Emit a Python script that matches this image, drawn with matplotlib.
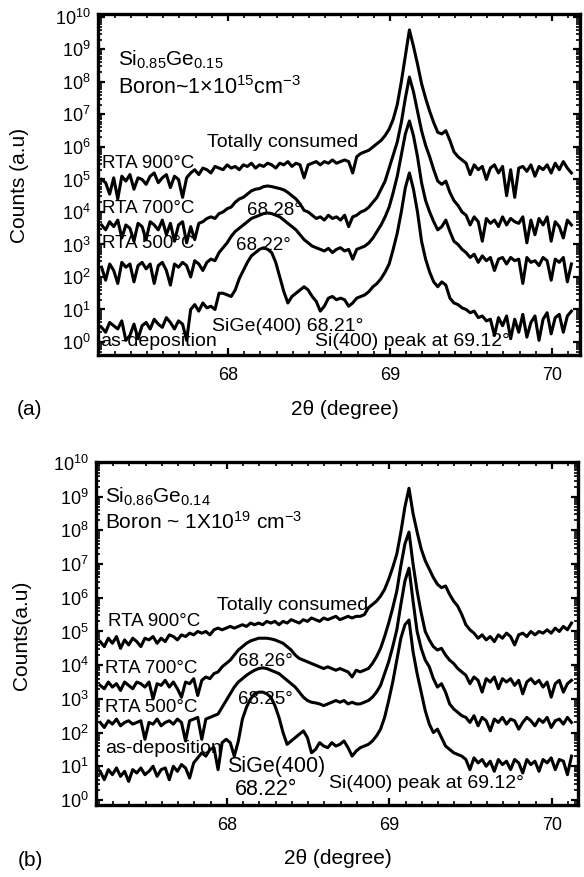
import matplotlib
matplotlib.use('Agg')
import matplotlib.pyplot as plt
import numpy as np
from matplotlib.ticker import LogLocator, NullFormatter, MultipleLocator

plt.rcParams['font.family'] = ['Liberation Sans', 'DejaVu Sans']
plt.rcParams['mathtext.fontset'] = 'custom'
plt.rcParams['mathtext.rm'] = 'Liberation Sans'
plt.rcParams['mathtext.it'] = 'Liberation Sans:italic'
plt.rcParams['mathtext.default'] = 'regular'

# scan: 2theta from 67.22, step 0.025 deg, 117 points
scan_start = 67.22
scan_step = 0.025
two_theta = scan_start + scan_step * np.arange(117)

# (a) Si0.85Ge0.15, log10(counts)
a_900 = [5.0, 4.9, 4.55, 5.05, 4.4, 5.1, 4.95, 5.15, 4.7, 5.05,
         5.0, 4.85, 5.1, 5.2, 4.9, 5.05, 5.15, 4.75, 5.1, 5.0,
         4.45, 5.05, 5.2, 5.3, 5.15, 5.35, 5.3, 5.2, 5.4, 5.35,
         5.3, 5.45, 5.35, 5.4, 5.3, 5.45, 5.4, 5.5, 5.35, 5.45,
         5.4, 5.5, 5.45, 5.35, 5.5, 5.45, 5.55, 5.4, 5.5, 5.45,
         5.05, 5.45, 5.5, 5.55, 5.45, 5.55, 5.5, 5.6, 5.5, 5.55,
         5.6, 5.55, 5.2, 5.7, 5.8, 5.85, 5.9, 6.0, 6.1, 6.2,
         6.35, 6.55, 6.85, 7.3, 8.0, 8.8, 9.6, 9.1, 8.55, 7.95,
         7.5, 7.1, 6.75, 6.45, 6.4, 6.5, 6.2, 5.85, 5.7, 5.6,
         5.5, 5.15, 5.45, 5.3, 5.4, 5.0, 5.35, 5.45, 5.2, 5.4,
         4.5, 5.3, 4.45, 5.35, 5.4, 5.25, 5.45, 5.1, 5.4, 5.3,
         5.45, 5.2, 5.5, 5.3, 5.55, 5.35, 5.2]
a_700 = [3.6, 3.45, 3.7, 3.55, 3.75, 3.2, 3.6, 3.5, 3.1, 3.65,
         3.55, 3.15, 3.7, 3.6, 3.45, 3.75, 3.3, 3.65, 3.1, 3.6,
         3.7, 3.05, 3.55, 3.15, 3.65, 3.7, 3.8, 3.85, 3.8, 3.95,
         4.0, 4.1, 4.15, 4.3, 4.4, 4.45, 4.55, 4.65, 4.7, 4.72,
         4.78, 4.8, 4.78, 4.75, 4.72, 4.68, 4.6, 4.5, 4.4, 4.25,
         4.05, 4.0, 3.9, 3.8, 3.85, 3.75, 3.9, 3.8, 3.85, 3.75,
         3.9, 3.55, 3.85, 3.9, 4.0, 4.05, 4.15, 4.3, 4.45, 4.7,
         4.95, 5.35, 5.75, 6.15, 6.75, 7.5, 8.15, 7.7, 7.1, 6.5,
         6.05, 5.7, 5.3, 4.95, 4.85, 4.95, 4.6, 4.35, 4.2, 4.0,
         3.9, 3.6, 3.85, 3.7, 3.1, 3.8, 3.65, 3.75, 3.55, 3.85,
         3.6, 3.8, 3.7, 3.65, 3.85, 3.05, 3.75, 3.3, 3.8, 3.6,
         3.85, 3.1, 3.7, 3.55, 3.2, 3.75, 3.6]
a_500 = [2.3, 1.9, 2.4, 2.2, 1.8, 2.45, 2.3, 2.4, 1.85, 2.35,
         2.45, 2.25, 2.4, 1.8, 2.35, 2.45, 2.2, 1.75, 2.4, 2.3,
         2.45, 2.35, 2.0, 2.5, 2.4, 2.2, 2.45, 2.55, 2.5, 2.75,
         2.9, 3.05, 3.25, 3.4, 3.5, 3.6, 3.7, 3.8, 3.85, 3.9,
         3.95, 3.97, 3.95, 3.9, 3.85, 3.75, 3.65, 3.55, 3.45, 3.3,
         3.15, 3.05, 2.95, 2.9, 2.85, 2.8, 2.88, 2.75, 2.85, 2.9,
         2.8, 2.85, 2.55, 2.85, 2.9, 2.95, 3.05, 3.2, 3.4, 3.6,
         3.85, 4.15, 4.6, 5.1, 5.75, 6.4, 6.8, 6.35, 5.7, 4.9,
         4.35, 4.0, 3.7, 3.45, 3.55, 3.75, 3.4, 3.1, 3.0, 2.85,
         2.75, 2.6, 2.7, 2.45, 2.65, 2.5, 2.6, 2.2, 2.55, 2.6,
         2.4, 2.6, 2.5, 2.55, 1.8, 2.6, 2.45, 2.5, 2.35, 2.6,
         2.5, 1.9, 2.55, 2.45, 2.6, 1.85, 2.4]
a_dep = [0.45, 0.3, 0.6, 0.5, 0.4, 0.65, 0.05, 0.2, 0.55, 0.1,
         0.5, 0.6, 0.4, 0.7, 0.55, 0.45, 0.75, 0.6, 0.4, 0.65,
         0.55, 0.05, 1.0, 1.15, 0.95, 1.2, 1.05, 1.1, 1.0, 1.5,
         1.5, 1.45, 1.4, 1.6, 1.95, 2.2, 2.45, 2.65, 2.75, 2.85,
         2.9, 2.85, 2.75, 2.45, 2.0, 1.55, 1.2, 1.4, 1.5, 1.6,
         1.7, 1.6, 1.4, 1.25, 0.95, 1.1, 1.35, 1.4, 1.3, 1.35,
         1.3, 1.1, 1.2, 1.35, 1.4, 1.45, 1.55, 1.7, 1.8, 1.95,
         2.15, 2.4, 2.85, 3.35, 4.0, 4.75, 5.2, 4.7, 4.0, 3.1,
         2.55, 2.15, 1.85, 1.7, 1.85, 1.75, 1.35, 1.2, 1.15, 1.05,
         1.0, 0.9, 0.95, 0.75, 0.8, 0.65, 0.7, 0.2, 0.75, 0.5,
         0.8, 0.1, 0.7, 0.3, 0.85, 0.15, 0.6, 0.8, 0.05, 0.7,
         0.9, 0.25, 0.75, 0.85, 0.3, 0.8, 0.95]

# (b) Si0.86Ge0.14
b_900 = [4.7, 4.55, 4.8, 4.65, 4.85, 4.5, 4.75, 4.6, 4.8, 4.7,
         4.55, 4.8, 4.75, 4.85, 4.65, 4.8, 4.7, 4.9, 4.85, 4.75,
         4.9, 4.85, 4.95, 4.9, 5.0, 4.95, 5.0, 4.9, 5.05, 5.1,
         5.05, 5.1, 5.15, 5.1, 5.15, 5.2, 5.15, 5.25, 5.2, 5.25,
         5.2, 5.3, 5.25, 5.3, 5.2, 5.3, 5.25, 5.35, 5.3, 5.25,
         5.35, 5.3, 5.4, 5.35, 5.3, 5.4, 5.35, 5.4, 5.45, 5.35,
         5.4, 5.45, 5.4, 5.45, 5.45, 5.5, 5.7, 5.8, 5.9, 6.05,
         6.25, 6.55, 6.9, 7.3, 7.95, 8.7, 9.25, 8.5, 7.95, 7.45,
         7.1, 6.85, 6.6, 6.4, 6.3, 6.35, 6.1, 5.9, 5.75, 5.5,
         5.2, 5.05, 4.95, 4.8, 4.9, 4.75, 4.85, 4.7, 4.9, 4.8,
         4.95, 4.85, 4.6, 4.9, 4.95, 4.85, 5.0, 4.9, 5.0, 4.95,
         5.05, 4.95, 5.1, 5.0, 5.15, 5.05, 5.25]
b_700 = [3.4, 3.3, 3.5, 3.35, 3.45, 3.25, 3.5, 3.4, 3.3, 3.5,
         3.45, 3.35, 3.5, 3.0, 3.45, 3.4, 3.55, 3.35, 3.5, 3.3,
         3.05, 3.5, 3.45, 3.6, 3.1, 3.55, 3.65, 3.6, 3.75, 3.8,
         3.95, 4.05, 4.15, 4.3, 4.45, 4.55, 4.65, 4.72, 4.76, 4.8,
         4.8, 4.8, 4.78, 4.75, 4.7, 4.65, 4.55, 4.45, 4.3, 4.2,
         4.15, 4.1, 4.05, 4.0, 3.95, 3.9, 3.95, 3.9, 3.85, 3.9,
         3.85, 3.8, 3.65, 3.85, 3.8, 3.85, 3.9, 4.05, 4.25, 4.5,
         4.85, 5.25, 5.7, 6.2, 6.95, 7.6, 7.95, 7.0, 6.2, 5.55,
         5.0, 4.75, 4.55, 4.45, 4.5, 4.3, 4.15, 4.05, 3.9, 3.8,
         3.7, 3.45, 3.65, 3.55, 3.2, 3.6, 3.5, 3.65, 3.3, 3.6,
         3.5, 3.6, 3.4, 3.55, 3.15, 3.5, 3.6, 3.45, 3.55, 3.35,
         3.5, 3.05, 3.45, 3.55, 3.2, 3.45, 3.55]
b_500 = [2.3, 2.15, 2.35, 2.25, 2.4, 2.2, 2.3, 2.35, 2.25, 2.3,
         2.35, 1.8, 2.3, 2.25, 2.4, 2.2, 2.3, 2.35, 2.25, 2.4,
         2.3, 1.75, 2.35, 2.4, 2.45, 1.8, 2.4, 2.45, 2.5, 2.55,
         2.75, 2.95, 3.15, 3.35, 3.5, 3.6, 3.7, 3.78, 3.85, 3.9,
         3.92, 3.9, 3.85, 3.8, 3.75, 3.65, 3.55, 3.45, 3.35, 3.2,
         3.05, 2.95, 2.9, 2.88, 2.85, 2.8, 2.85, 2.9, 2.95, 2.9,
         2.95, 2.85, 2.9, 2.85, 2.85, 2.9, 2.95, 3.05, 3.2, 3.4,
         3.75, 4.1, 4.55, 5.05, 5.8, 6.5, 6.88, 5.9, 5.0, 4.5,
         4.15, 3.95, 3.6, 3.35, 3.45, 3.2, 2.85, 2.7, 2.6, 2.5,
         2.45, 2.3, 2.5, 2.2, 2.45, 2.35, 2.05, 2.4, 2.3, 2.45,
         2.25, 2.4, 2.35, 2.1, 2.3, 2.45, 2.35, 2.2, 2.4, 2.3,
         2.45, 2.15, 2.35, 2.4, 2.25, 2.45, 2.3]
b_dep = [0.85, 0.6, 0.9, 0.75, 0.95, 0.7, 0.85, 0.55, 0.9, 0.8,
         0.95, 0.75, 0.85, 1.0, 0.7, 0.9, 0.95, 0.6, 1.0, 0.85,
         1.05, 0.95, 0.65, 1.1, 1.25, 1.4, 1.3, 1.5, 1.55, 0.9,
         1.7, 1.8, 1.7, 1.3, 1.75, 2.4, 2.75, 3.0, 3.15, 3.2,
         3.2, 3.15, 3.05, 2.8, 2.45, 2.0, 1.65, 1.75, 1.85, 1.95,
         2.05, 1.85, 1.4, 1.5, 1.7, 1.6, 1.55, 1.7, 1.6, 1.65,
         1.75, 1.55, 1.3, 1.45, 1.55, 1.6, 1.65, 1.75, 1.9, 2.1,
         2.45, 2.95, 3.5, 4.15, 4.8, 5.2, 5.34, 4.4, 3.75, 3.2,
         2.65, 2.25, 2.0, 2.1, 1.85, 1.6, 1.5, 1.4, 1.35, 1.3,
         1.2, 0.9, 1.25, 1.1, 1.2, 1.0, 1.15, 0.85, 1.2, 1.05,
         1.15, 0.9, 1.2, 1.1, 0.8, 1.2, 1.05, 1.15, 0.85, 1.2,
         1.1, 1.25, 0.9, 1.2, 1.15, 0.75, 1.3]

fig = plt.figure(figsize=(5.84, 8.77), dpi=100)
axA = fig.add_axes([98/584, 1-355/877, 482/584, 341/877])
axB = fig.add_axes([96/584, 1-805/877, 482/584, 343/877])


def style(ax, ylo, yhi, xlo, xhi):
    ax.set_yscale('log')
    ax.set_xlim(xlo, xhi)
    ax.set_ylim(ylo, yhi)
    ax.set_yticks([10.0**k for k in range(11)])
    ax.yaxis.set_minor_locator(LogLocator(base=10, subs=np.arange(2, 10), numticks=30))
    ax.yaxis.set_minor_formatter(NullFormatter())
    ax.set_xticks([68, 69, 70])
    ax.set_xticklabels(['68', '69', '70'])
    ax.xaxis.set_minor_locator(MultipleLocator(0.1))
    ax.tick_params(which='both', direction='in', top=True, right=True, labelsize=13)
    ax.tick_params(which='major', length=5, width=1.6)
    ax.tick_params(which='minor', length=3, width=1.2)
    ax.tick_params(axis='x', pad=9)
    ax.tick_params(axis='y', pad=5)
    for s in ax.spines.values():
        s.set_linewidth(2.4)


for ys in [a_900, a_700, a_500, a_dep]:
    axA.plot(two_theta, 10**np.array(ys), color='black', lw=2.2)
style(axA, 10**-0.4, 10**10.09, 67.198, 70.173)

for ys in [b_900, b_700, b_500, b_dep]:
    axB.plot(two_theta, 10**np.array(ys), color='black', lw=2.2)
style(axB, 10**-0.15, 10**10.03, 67.194, 70.16)

fs = 13.5
axA.text(67.32, 10**8.68, 'Si$_{0.85}$Ge$_{0.15}$', fontsize=15, va='center')
axA.text(67.32, 10**7.82, 'Boron~1×10$^{15}$cm$^{-3}$', fontsize=15.5, va='center')
axA.text(67.87, 10**6.15, 'Totally consumed', fontsize=14, va='center')
axA.text(67.22, 10**5.5, 'RTA 900°C', fontsize=fs, va='center')
axA.text(67.22, 10**4.12, 'RTA 700°C', fontsize=fs, va='center')
axA.text(68.12, 10**4.03, '68.28°', fontsize=fs, va='center')
axA.text(67.22, 10**3.02, 'RTA 500°C', fontsize=fs, va='center')
axA.text(68.05, 10**2.98, '68.22°', fontsize=fs, va='center')
axA.text(67.90, 10**0.49, 'SiGe(400) 68.21°', fontsize=14, va='center')
axA.text(67.21, 10**0.03, 'as-deposition', fontsize=14, va='center')
axA.text(68.54, 10**0.0, 'Si(400) peak at 69.12°', fontsize=14, va='center')

axB.text(67.25, 10**8.99, 'Si$_{0.86}$Ge$_{0.14}$', fontsize=15, va='center')
axB.text(67.25, 10**8.25, 'Boron ~ 1X10$^{19}$ cm$^{-3}$', fontsize=15, va='center')
axB.text(67.94, 10**5.76, 'Totally consumed', fontsize=14, va='center')
axB.text(67.27, 10**5.31, 'RTA 900°C', fontsize=fs, va='center')
axB.text(67.25, 10**3.89, 'RTA 700°C', fontsize=fs, va='center')
axB.text(68.07, 10**4.1, '68.26°', fontsize=fs, va='center')
axB.text(67.25, 10**2.73, 'RTA 500°C', fontsize=fs, va='center')
axB.text(68.07, 10**2.97, '68.25°', fontsize=fs, va='center')
axB.text(67.25, 10**1.54, 'as-deposition', fontsize=14, va='center')
axB.text(68.0, 10**0.98, 'SiGe(400)', fontsize=15.5, va='center')
axB.text(68.05, 10**0.3, '68.22°', fontsize=15.5, va='center')
axB.text(68.63, 10**0.5, 'Si(400) peak at 69.12°', fontsize=14, va='center')

fig.text(20/584, 1-185/877, 'Counts (a.u)', rotation=90, fontsize=15, ha='center', va='center')
fig.text(22/584, 1-635/877, 'Counts(a.u)', rotation=90, fontsize=15, ha='center', va='center')
fig.text(345/584, 1-410/877, '2θ (degree)', fontsize=15, ha='center', va='center')
fig.text(338/584, 1-858/877, '2θ (degree)', fontsize=15, ha='center', va='center')
fig.text(30/584, 1-410/877, '(a)', fontsize=15, ha='center', va='center')
fig.text(30/584, 1-860/877, '(b)', fontsize=15, ha='center', va='center')

plt.savefig('out.png', dpi=100)
plt.close()
